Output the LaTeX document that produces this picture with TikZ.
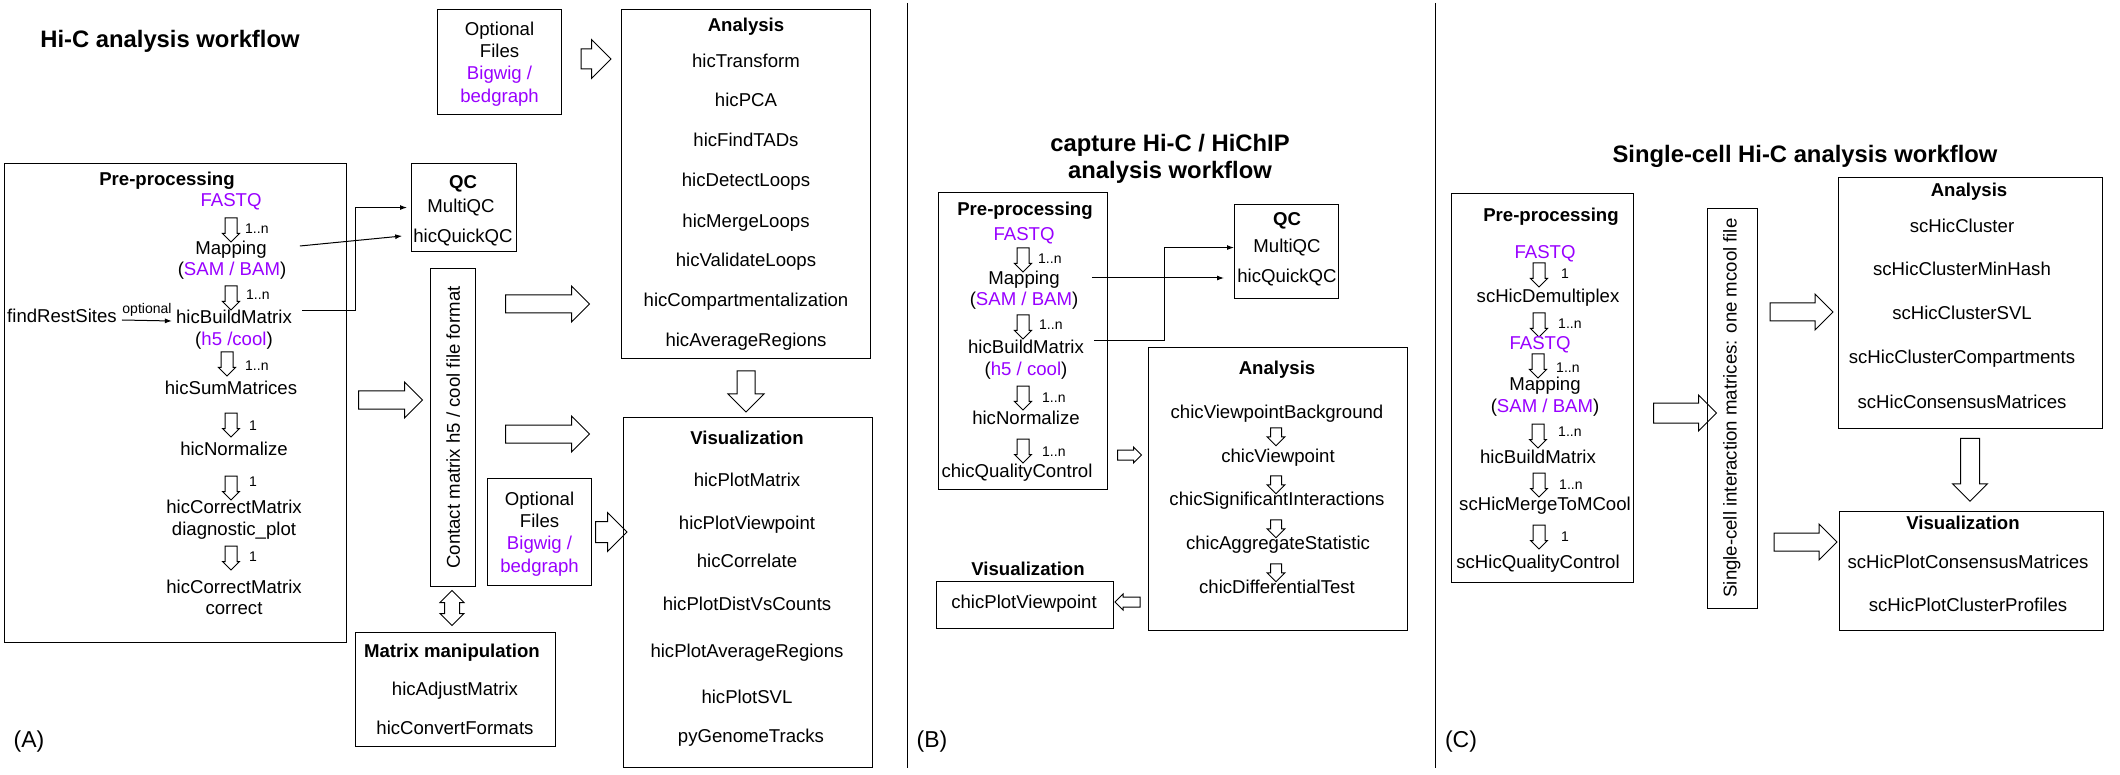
\documentclass[tikz,border=0pt]{standalone}
\usepackage{fontspec}
\setmainfont{Liberation Sans}
\usepackage{xcolor}
\usepackage{tikz}
\usetikzlibrary{shapes.arrows,arrows.meta}
\definecolor{fastq}{HTML}{9900FF}

\begin{document}
\begin{tikzpicture}[x=1pt,y=-1pt,
  every node/.style={inner sep=0pt},
  lbl/.style={font=\fontsize{18.6}{22.3}\selectfont, text height=13.4pt, text depth=0pt},
  hd/.style={lbl, font=\fontsize{18.6}{22.3}\selectfont\bfseries},
  file/.style={lbl, text=fastq},
  mtxt/.style={align=center, font=\fontsize{18.6}{22.3}\selectfont, text depth=0pt},
  num/.style={font=\fontsize{14}{16}\selectfont, anchor=west},
  ttl/.style={font=\fontsize{23.8}{27}\selectfont\bfseries, align=center},
  tag/.style={font=\fontsize{23}{26}\selectfont},
  frame/.style={draw, line width=1.1pt, anchor=north west},
  dn/.style={single arrow, draw, fill=white, line width=1pt, shape border rotate=270,
    minimum height=24pt, inner sep=5.5pt, single arrow head extend=2.5pt},
  sdn/.style={dn, minimum height=18pt, inner sep=5pt, single arrow head extend=3.5pt},
  blk/.style={single arrow, draw, fill=white, line width=1pt, minimum height=#1,
    inner sep=8.5pt, single arrow head extend=9pt},
  conn/.style={line width=1pt, -{Latex[length=7pt,width=5pt]}},
  sep/.style={line width=1pt}]
\fill[white] (0,0) rectangle (2120,775);
\draw[sep] (907,3) -- (907,768);
\draw[sep] (1435,3) -- (1435,768);

% (A) Hi-C
\node[ttl] (ttlA) at (170,41.5) {Hi-C analysis workflow};
\node[frame, minimum width=342pt, minimum height=479pt] (preA) at (4,163) {};
\node[hd] (preAh) at (167,179) {Pre-processing};
\node[file] (fqA) at (231,200) {FASTQ};
\node[dn] (dA1) at (231,227) {};
\node[num] (nA1) at (245,229) {1..n};
\node[lbl] (mapA) at (231,248) {Mapping};
\node[lbl] (samA) at (232,269) {(\textcolor{fastq}{SAM / BAM})};
\node[dn] (dA2) at (231,295) {};
\node[num] (nA2) at (246,295) {1..n};
\node[lbl] (frs) at (62,316) {findRestSites};
\node[lbl] (buildA) at (234,317) {hicBuildMatrix};
\node[lbl] (h5A) at (234,339) {(\textcolor{fastq}{h5 /cool})};
\node[dn] (dA3) at (227,361) {};
\node[num] (nA3) at (245,366) {1..n};
\node[lbl] (sumA) at (231,388) {hicSumMatrices};
\node[dn] (dA4) at (231,422) {};
\node[num] (nA4) at (249,426) {1};
\node[lbl] (normA) at (234,449) {hicNormalize};
\node[dn] (dA5) at (231,485) {};
\node[num] (nA5) at (249,482) {1};
\node[lbl] (corrA) at (234,507) {hicCorrectMatrix};
\node[lbl] (diagA) at (234,529) {diagnostic\_plot};
\node[dn] (dA6) at (231,555) {};
\node[num] (nA6) at (249,557) {1};
\node[lbl] (corrA2) at (234,587) {hicCorrectMatrix};
\node[lbl] (corrA3) at (234,608) {correct};
\draw[conn] ([xshift=5pt,yshift=-4pt]frs.east) -- node[num, anchor=south, yshift=4pt] (optl) {optional} ([xshift=-4pt,yshift=-4pt]buildA.west);

\node[frame, minimum width=105pt, minimum height=88pt] (qcA) at (411,163) {};
\node[hd] (qcAh) at (463,182) {QC};
\node[lbl] (mqA) at (461,206) {MultiQC};
\node[lbl] (qcqA) at (463,236) {hicQuickQC};
\draw[conn] ([xshift=33pt,yshift=2pt]mapA.east) -- ([xshift=-11pt]qcqA.west);
\draw[conn] ([xshift=10pt,yshift=6pt]buildA.east) -- ++(53,0) |- ([xshift=-4pt]qcA.west);

\node[frame, minimum width=45pt, minimum height=318pt] (cm) at (430,268) {};
\node[lbl, rotate=90] (cmt) at (cm.center) {Contact matrix h5 / cool file format};
\node[blk=64pt] (bigA1) at (386,400) {};
\node[blk=84pt] (bigA2) at (543,304) {};
\node[blk=84pt] (bigA3) at (543,434) {};
\node[double arrow, draw, fill=white, line width=1pt, shape border rotate=90, minimum height=35pt,
  inner sep=7pt, double arrow head extend=4.5pt] (dblA) at (452,608) {};

\node[frame, minimum width=124pt, minimum height=105pt] (optA) at (437,9) {};
\node[mtxt] (optAt) at (optA.center) {Optional\\Files\\\textcolor{fastq}{Bigwig /}\\\textcolor{fastq}{bedgraph}};
\node[blk=28pt, inner sep=9.5pt, single arrow head extend=9.5pt] (oarA) at (591,59) {};
\node[frame, minimum width=104pt, minimum height=107pt] (optA2) at (487,478) {};
\node[mtxt] (optA2t) at (optA2.center) {Optional\\Files\\\textcolor{fastq}{Bigwig /}\\\textcolor{fastq}{bedgraph}};
\node[blk=29pt, inner sep=10pt, single arrow head extend=9pt] (oarA2) at (606,532) {};

\node[frame, minimum width=249pt, minimum height=349pt] (anA) at (621,9) {};
\node[hd] (anAh) at (746,25) {Analysis};
\node[lbl] (anA1) at (746,61) {hicTransform};
\node[lbl] (anA2) at (746,100) {hicPCA};
\node[lbl] (anA3) at (746,140) {hicFindTADs};
\node[lbl] (anA4) at (746,180) {hicDetectLoops};
\node[lbl] (anA5) at (746,221) {hicMergeLoops};
\node[lbl] (anA6) at (746,260) {hicValidateLoops};
\node[lbl] (anA7) at (746,300) {hicCompartmentalization};
\node[lbl] (anA8) at (746,340) {hicAverageRegions};
\node[blk=41pt, shape border rotate=270] (downA) at (746,387) {};

\node[frame, minimum width=249pt, minimum height=350pt] (visA) at (623,417) {};
\node[hd] (visAh) at (747,438) {Visualization};
\node[lbl] (visA1) at (747,480) {hicPlotMatrix};
\node[lbl] (visA2) at (747,523) {hicPlotViewpoint};
\node[lbl] (visA3) at (747,561) {hicCorrelate};
\node[lbl] (visA4) at (747,604) {hicPlotDistVsCounts};
\node[lbl] (visA5) at (747,651) {hicPlotAverageRegions};
\node[lbl] (visA6) at (747,697) {hicPlotSVL};
\node[lbl] (visA7) at (751,736) {pyGenomeTracks};

\node[frame, minimum width=200pt, minimum height=114pt] (mmA) at (355,632) {};
\node[hd] (mmAh) at (452,651) {Matrix manipulation};
\node[lbl] (mmA1) at (455,689) {hicAdjustMatrix};
\node[lbl] (mmA2) at (455,728) {hicConvertFormats};
\node[tag] (tagA) at (29,742) {(A)};

% (B) capture Hi-C
\node[ttl] (ttlB) at (1170,159) {capture Hi-C / HiChIP\\analysis workflow};
\node[frame, minimum width=169pt, minimum height=297pt] (preB) at (938,192) {};
\node[hd] (preBh) at (1025,209) {Pre-processing};
\node[file] (fqB) at (1024,234) {FASTQ};
\node[dn] (dB1) at (1023,257) {};
\node[num] (nB1) at (1038,259) {1..n};
\node[lbl] (mapB) at (1024,278) {Mapping};
\node[lbl] (samB) at (1024,299) {(\textcolor{fastq}{SAM / BAM})};
\node[dn] (dB2) at (1023,324) {};
\node[num] (nB2) at (1039,325) {1..n};
\node[lbl] (buildB) at (1026,347) {hicBuildMatrix};
\node[lbl] (h5B) at (1026,369) {(\textcolor{fastq}{h5 / cool})};
\node[dn] (dB3) at (1023,395) {};
\node[num] (nB3) at (1042,398) {1..n};
\node[lbl] (normB) at (1026,418) {hicNormalize};
\node[dn] (dB4) at (1023,448) {};
\node[num] (nB4) at (1042,452) {1..n};
\node[lbl] (qualB) at (1017,471) {chicQualityControl};

\node[frame, minimum width=104pt, minimum height=94pt] (qcB) at (1234,204) {};
\node[hd] (qcBh) at (1287,219) {QC};
\node[lbl] (mqB) at (1287,246) {MultiQC};
\node[lbl] (qcqB) at (1287,276) {hicQuickQC};
\draw[conn, shorten >=10pt] ([xshift=32pt]mapB.east) -- (mapB.east -| qcB.west);
\draw[conn] ([xshift=10pt,yshift=6pt]buildB.east) -- ++(70,0) |- ([yshift=4pt]qcB.west);

\node[frame, minimum width=259pt, minimum height=283pt] (anB) at (1148,347) {};
\node[hd] (anBh) at (1277,368) {Analysis};
\node[lbl] (anB1) at (1277,412) {chicViewpointBackground};
\node[sdn] (dB5) at (1276,434) {};
\node[lbl] (anB2) at (1278,456) {chicViewpoint};
\node[sdn] (dB6) at (1276,482) {};
\node[lbl] (anB3) at (1277,499) {chicSignificantInteractions};
\node[sdn] (dB7) at (1276,526) {};
\node[lbl] (anB4) at (1278,543) {chicAggregateStatistic};
\node[sdn] (dB8) at (1276,570) {};
\node[lbl] (anB5) at (1277,587) {chicDifferentialTest};
\node[blk=24pt, inner sep=4.5pt, single arrow head extend=3pt] (bigB1) at (1127,455) {};

\node[hd] (visBh) at (1028,569) {Visualization};
\node[frame, minimum width=177pt, minimum height=47pt] (visB) at (936,581) {};
\node[lbl] (visB1) at (1024,602) {chicPlotViewpoint};
\node[blk=25pt, inner sep=4.5pt, single arrow head extend=3pt, shape border rotate=180] (bigB2) at (1130,602) {};
\node[tag] (tagB) at (932,742) {(B)};

% (C) single-cell Hi-C
\node[ttl] (ttlC) at (1805,156.5) {Single-cell Hi-C analysis workflow};
\node[frame, minimum width=182pt, minimum height=389pt] (preC) at (1451,193) {};
\node[hd] (preCh) at (1551,215) {Pre-processing};
\node[file] (fqC) at (1545,252) {FASTQ};
\node[dn] (dC1) at (1539,272) {};
\node[num] (nC1) at (1561,274) {1};
\node[lbl] (demC) at (1548,296) {scHicDemultiplex};
\node[dn] (dC2) at (1539,322) {};
\node[num] (nC2) at (1558,324) {1..n};
\node[file] (fqC2) at (1540,343) {FASTQ};
\node[dn] (dC3) at (1538,363) {};
\node[num] (nC3) at (1556,368) {1..n};
\node[lbl] (mapC) at (1545,384) {Mapping};
\node[lbl] (samC) at (1545,406) {(\textcolor{fastq}{SAM / BAM})};
\node[dn] (dC4) at (1538,433) {};
\node[num] (nC4) at (1558,432) {1..n};
\node[lbl] (buildC) at (1538,457) {hicBuildMatrix};
\node[dn] (dC5) at (1539,482) {};
\node[num] (nC5) at (1559,485) {1..n};
\node[lbl] (mergeC) at (1545,504) {scHicMergeToMCool};
\node[dn] (dC6) at (1539,534) {};
\node[num] (nC6) at (1561,537) {1};
\node[lbl] (qualC) at (1538,562) {scHicQualityControl};

\node[blk=63pt, inner sep=9.5pt, single arrow head extend=8pt] (bigC1) at (1680,413) {};
\node[frame, minimum width=50pt, minimum height=400pt] (scm) at (1707,208) {};
\node[lbl, rotate=90] (scmt) at (1730,408) {Single-cell interaction matrices: one mcool file};
\node[blk=63pt] (bigC2) at (1797,312) {};
\node[blk=63pt] (bigC3) at (1801,542) {};

\node[frame, minimum width=264pt, minimum height=251pt] (anC) at (1838,177) {};
\node[hd] (anCh) at (1969,190) {Analysis};
\node[lbl] (anC1) at (1962,226) {scHicCluster};
\node[lbl] (anC2) at (1962,269) {scHicClusterMinHash};
\node[lbl] (anC3) at (1962,313) {scHicClusterSVL};
\node[lbl] (anC4) at (1962,357) {scHicClusterCompartments};
\node[lbl] (anC5) at (1962,402) {scHicConsensusMatrices};
\node[blk=63pt, inner sep=9pt, single arrow head extend=8pt, shape border rotate=270] (downC) at (1970,465) {};

\node[frame, minimum width=264pt, minimum height=119pt] (visC) at (1839,511) {};
\node[hd] (visCh) at (1963,523) {Visualization};
\node[lbl] (visC1) at (1968,562) {scHicPlotConsensusMatrices};
\node[lbl] (visC2) at (1968,605) {scHicPlotClusterProfiles};
\node[tag] (tagC) at (1461,742) {(C)};
\end{tikzpicture}
\end{document}
